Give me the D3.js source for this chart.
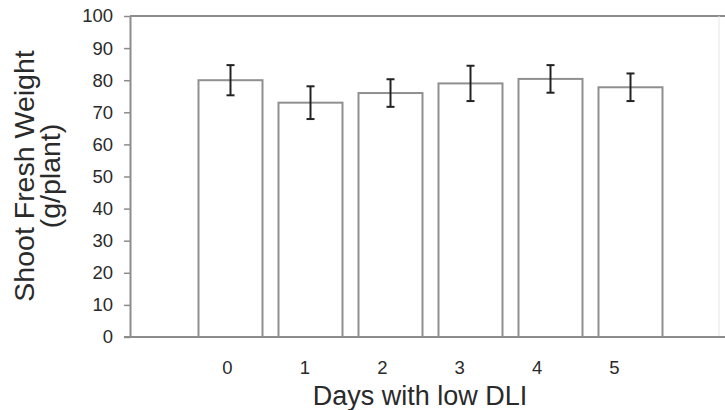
<!DOCTYPE html>
<html>
<head>
<meta charset="utf-8">
<script src="https://cdn.jsdelivr.net/npm/d3@7"></script>
<style>
  html, body { margin: 0; padding: 0; background: #fff; }
  svg { display: block; font-family: "Liberation Sans", Arial, sans-serif; }
</style>
</head>
<body>
<svg id="chart" width="725" height="410"></svg>
<script>
// Shoot fresh weight by number of days with low DLI
const days = ["0", "1", "2", "3", "4", "5"];
const meanWeight = [80, 73, 76, 79, 80.4, 77.8];
const errWeight = [4.7, 5.1, 4.3, 5.5, 4.3, 4.3];
const yTicks = [0, 10, 20, 30, 40, 50, 60, 70, 80, 90, 100];

const svg = d3.select("#chart");

const plot = { left: 130, right: 725, top: 16, bottom: 337 };

const y = d3.scaleLinear().domain([0, 100]).range([plot.bottom, plot.top]);
const x = d3.scaleBand().domain(days).range([190.5, 670.5])
  .paddingInner(0.2).paddingOuter(0.1);
const xLabel = d3.scalePoint().domain(days).range([227, 614]);

const axisColor = "#8c8c8c";
const textColor = "#2a2a2a";

// frame: top line and a faint right edge
svg.append("line")
  .attr("x1", plot.left).attr("x2", plot.right)
  .attr("y1", plot.top).attr("y2", plot.top)
  .attr("stroke", axisColor).attr("stroke-width", 2);
svg.append("line")
  .attr("x1", 719).attr("x2", 719)
  .attr("y1", plot.top).attr("y2", plot.bottom)
  .attr("stroke", "#e6e6e6").attr("stroke-width", 1);

// bars
svg.append("g").selectAll("rect")
  .data(days)
  .join("rect")
  .attr("x", d => x(d))
  .attr("width", x.bandwidth())
  .attr("y", (d, i) => y(meanWeight[i]))
  .attr("height", (d, i) => y(0) - y(meanWeight[i]))
  .attr("fill", "#fff")
  .attr("stroke", "#8f8f8f")
  .attr("stroke-width", 2);

// error bars
const eb = svg.append("g").attr("stroke", "#222").attr("stroke-width", 2);
days.forEach((d, i) => {
  const cx = x(d) + x.bandwidth() / 2;
  const y1 = y(meanWeight[i] + errWeight[i]);
  const y2 = y(meanWeight[i] - errWeight[i]);
  eb.append("line").attr("x1", cx).attr("x2", cx).attr("y1", y1).attr("y2", y2);
  eb.append("line").attr("x1", cx - 4).attr("x2", cx + 4).attr("y1", y1).attr("y2", y1);
  eb.append("line").attr("x1", cx - 4).attr("x2", cx + 4).attr("y1", y2).attr("y2", y2);
});

// y axis
const yAxis = svg.append("g")
  .attr("transform", `translate(${plot.left},0)`)
  .call(d3.axisLeft(y).tickValues(yTicks).tickSize(6).tickPadding(11).tickSizeOuter(0));
yAxis.select(".domain").attr("stroke", axisColor).attr("stroke-width", 2);
yAxis.selectAll(".tick line").attr("stroke", axisColor).attr("stroke-width", 1.5);
yAxis.selectAll(".tick text")
  .attr("fill", textColor).style("font-size", "18.5px").style("font-family", "Liberation Sans, Arial, sans-serif");

// x axis baseline spanning the full plot width
svg.append("line")
  .attr("x1", plot.left - 6).attr("x2", plot.right)
  .attr("y1", plot.bottom).attr("y2", plot.bottom)
  .attr("stroke", axisColor).attr("stroke-width", 2);

// x tick labels
const xAxis = svg.append("g")
  .attr("transform", `translate(0,${plot.bottom})`)
  .call(d3.axisBottom(xLabel).tickSize(0).tickPadding(24));
xAxis.select(".domain").remove();
xAxis.selectAll(".tick text")
  .attr("fill", textColor).style("font-size", "18.5px").style("font-family", "Liberation Sans, Arial, sans-serif");

// axis titles
svg.append("text")
  .attr("x", 420).attr("y", 405)
  .attr("text-anchor", "middle")
  .attr("fill", textColor)
  .style("font-size", "27px")
  .text("Days with low DLI");

const yt = svg.append("text")
  .attr("transform", "translate(34,176) rotate(-90)")
  .attr("text-anchor", "middle")
  .attr("fill", textColor)
  .style("font-size", "28.5px");
yt.append("tspan").attr("x", 0).attr("dy", 0).text("Shoot Fresh Weight");
yt.append("tspan").attr("x", 0).attr("dy", 26).text("(g/plant)");
</script>
</body>
</html>
